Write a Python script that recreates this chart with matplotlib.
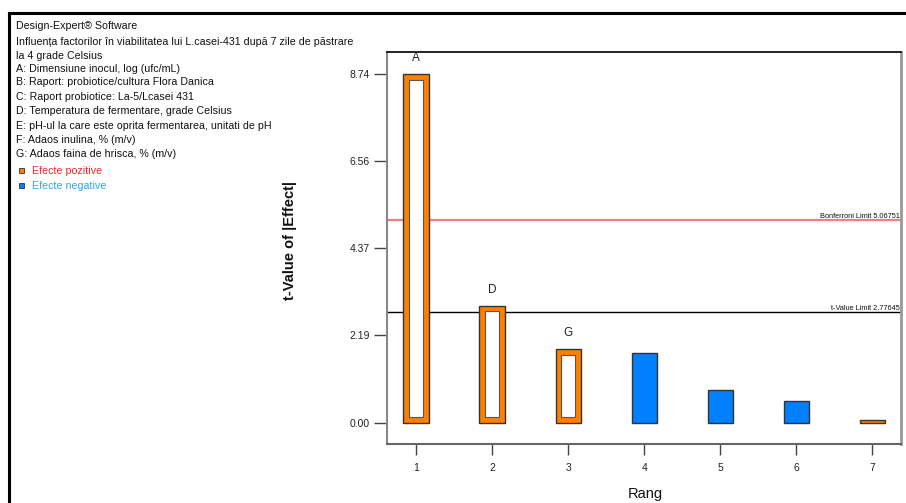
import matplotlib
matplotlib.use('Agg')
from matplotlib import pyplot as plt
from matplotlib.lines import Line2D
from matplotlib.patches import Rectangle
import numpy as np

plt.rcParams['font.family'] = ['Liberation Sans', 'DejaVu Sans']

# date Pareto: rang, valoarea t si semnul efectului
rang = [1, 2, 3, 4, 5, 6, 7]
t_values = [8.74, 2.93, 1.84, 1.74, 0.81, 0.55, 0.07]
positive = [True, True, True, False, False, False, True]
bar_labels = ['A', 'D', 'G', '', '', '', '']
y_ticks = [0.00, 2.19, 4.37, 6.56, 8.74]
bonferroni_limit = 5.06751
t_value_limit = 2.77645

header_lines = [
    'Design-Expert® Software',
    'Influența factorilor în viabilitatea lui L.casei-431 după 7 zile de păstrare',
    'la 4 grade Celsius',
    'A: Dimensiune inocul, log (ufc/mL)',
    'B: Raport: probiotice/cultura Flora Danica',
    'C: Raport probiotice: La-5/Lcasei 431',
    'D: Temperatura de fermentare, grade Celsius',
    'E: pH-ul la care este oprita fermentarea, unitati de pH',
    'F: Adaos inulina, % (m/v)',
    'G: Adaos faina de hrisca, % (m/v)',
]
legend_labels = ['Efecte pozitive', 'Efecte negative']

ORANGE = '#FF8000'
BLUE = '#0080FF'
EDGE = '#333333'

W, H = 906, 503
fig = plt.figure(figsize=(W / 100, H / 100), dpi=100)
ax = fig.add_axes([386.7 / W, 1 - 444 / H, (900.7 - 386.7) / W, (444 - 52.3) / H])

bar_w = 0.33
inset_x = 0.075
inset_y = 0.14
for x, v, pos in zip(rang, t_values, positive):
    ax.bar(x, v, width=bar_w, color=ORANGE if pos else BLUE,
           edgecolor=EDGE, linewidth=1.0, zorder=3)
    # efectele pozitive au interiorul gol
    if pos and v > 3 * inset_y:
        ax.bar(x, v - 2 * inset_y, bottom=inset_y, width=bar_w - 2 * inset_x,
               color='white', edgecolor='#555555', linewidth=0.8, zorder=4)

for x, v, lab in zip(rang, t_values, bar_labels):
    if lab:
        ax.annotate(lab, (x, v), xytext=(0, 16), textcoords='offset pixels',
                    ha='center', va='center', fontsize=8.5, color='#222222')

ax.axhline(bonferroni_limit, color='#F08080', linewidth=1.6, zorder=2)
ax.axhline(t_value_limit, color='black', linewidth=1.0, zorder=2)
ax.text(7.36, bonferroni_limit, 'Bonferroni Limit %.5f' % bonferroni_limit,
        ha='right', va='bottom', fontsize=5.3, color='#111111')
ax.text(7.36, t_value_limit, 't-Value Limit %.5f' % t_value_limit,
        ha='right', va='bottom', fontsize=5.3, color='#111111')

ax.set_xlim(0.615, 7.373)
ax.set_ylim(-0.539, 9.285)
ax.set_xticks(rang)
ax.set_yticks(y_ticks)
ax.set_yticklabels(['%.2f' % t for t in y_ticks])
ax.tick_params(axis='y', direction='out', length=9.4, width=1.0, color='#444444',
               labelsize=7.5, labelcolor='#222222', pad=3)
ax.tick_params(axis='x', direction='out', length=7.9, width=1.0, color='#444444',
               labelsize=7.5, labelcolor='#222222', pad=6)

ax.spines['top'].set_color('black')
ax.spines['top'].set_linewidth(1.2)
ax.spines['left'].set_color('#888888')
ax.spines['left'].set_linewidth(1.5)
ax.spines['bottom'].set_color('#666666')
ax.spines['bottom'].set_linewidth(1.5)
ax.spines['right'].set_color('#999999')
ax.spines['right'].set_linewidth(2.0)

fig.text(290 / W, 1 - 240 / H, 't-Value of |Effect|', rotation=90, ha='center', va='center',
         fontsize=10.5, fontweight='bold', color='#111111')
fig.text(645 / W, 1 - 494 / H, 'Rang', ha='center', va='center', fontsize=10.5, color='#111111')

# blocul de text din stanga
line_y = [26, 41.7, 56, 69.3, 82.3, 97.3, 111, 126, 140, 154.3]
for y, s in zip(line_y, header_lines):
    fig.text(16 / W, 1 - y / H, s, ha='left', va='center', fontsize=7.7, color='#111111')

legend_y = [170.7, 185.7]
legend_col = [ORANGE, BLUE]
legend_txt = ['#F02828', '#28A8F0']
for y, c, tc, s in zip(legend_y, legend_col, legend_txt, legend_labels):
    fig.add_artist(Rectangle((18.5 / W, 1 - (y + 2.5) / H), 5 / W, 5 / H,
                             facecolor=c, edgecolor=EDGE, linewidth=0.6,
                             transform=fig.transFigure))
    fig.text(31.7 / W, 1 - y / H, s, ha='left', va='center', fontsize=7.7, color=tc)

# chenarul negru al imaginii
fig.add_artist(Line2D([9 / W, 1], [1 - 13 / H, 1 - 13 / H], color='black', linewidth=2.2,
                      transform=fig.transFigure))
fig.add_artist(Line2D([9 / W, 9 / W], [0, 1 - 13 / H], color='black', linewidth=2.2,
                      transform=fig.transFigure))

fig.savefig('out.png', dpi=100)
